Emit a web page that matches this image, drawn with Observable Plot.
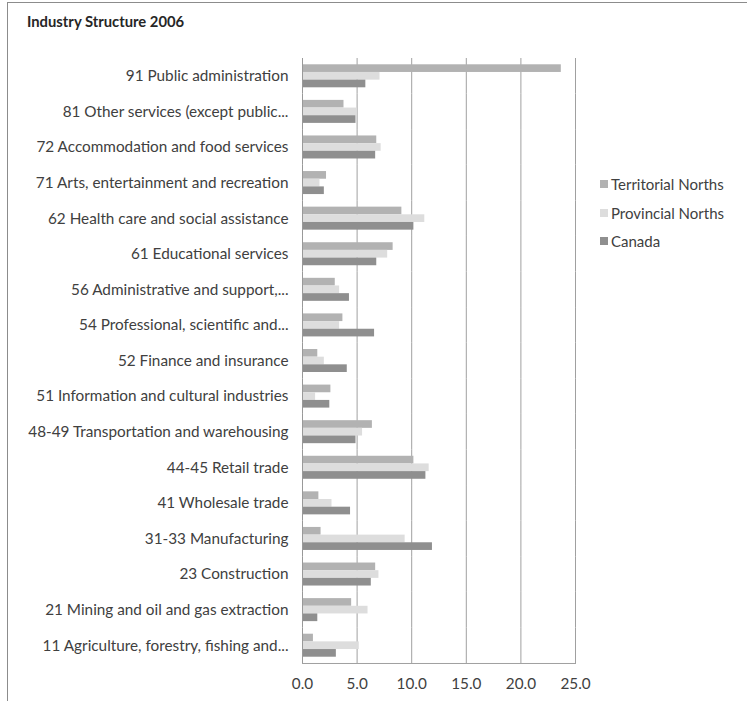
<!DOCTYPE html>
<html>
<head>
<meta charset="utf-8">
<script src="https://cdn.jsdelivr.net/npm/d3@7"></script>
<script src="https://cdn.jsdelivr.net/npm/@observablehq/plot@0.6"></script>
<style>
  body { margin: 0; background: #fff; }
  #chart { position: relative; width: 747px; height: 701px; overflow: hidden; font-family: Lato, "Open Sans", sans-serif; color: #404040; }
  #frame { position: absolute; left: 7px; top: 2px; width: 760px; height: 720px; border-left: 1px solid #8c8c8c; border-top: 1px solid #8c8c8c; }
  #title { position: absolute; left: 27px; top: 12px; font-size: 14.8px; font-weight: bold; color: #262626; }
  #legend { position: absolute; left: 600px; top: 175px; font-size: 15px; }
  .row { position: relative; height: 28.5px; line-height: 18px; padding-left: 11px; }
  .sw { position: absolute; left: 0; top: 5px; width: 8px; height: 8px; }
  #plot { position: absolute; left: 0; top: 0; }
</style>
</head>
<body>
<div id="chart">
  <div id="frame"></div>
  <div id="plot"></div>
  <div id="title">Industry Structure 2006</div>
  <div id="legend"></div>
</div>
<script>
// Industry shares of employment (%), 2006, top to bottom as drawn
const categories = [
  "91 Public administration",
  "81 Other services (except public...",
  "72 Accommodation and food services",
  "71 Arts, entertainment and recreation",
  "62 Health care and social assistance",
  "61 Educational services",
  "56 Administrative and support,...",
  "54 Professional, scientific and...",
  "52 Finance and insurance",
  "51 Information and cultural industries",
  "48-49 Transportation and warehousing",
  "44-45 Retail trade",
  "41 Wholesale trade",
  "31-33 Manufacturing",
  "23 Construction",
  "21 Mining and oil and gas extraction",
  "11 Agriculture, forestry, fishing and..."
];
const seriesNames = ["Territorial Norths", "Provincial Norths", "Canada"];
const territorial = [23.7, 3.8, 6.8, 2.2, 9.1, 8.3, 3.0, 3.7, 1.4, 2.6, 6.4, 10.2, 1.5, 1.7, 6.7, 4.5, 1.0];
const provincial  = [7.1, 5.0, 7.2, 1.6, 11.2, 7.8, 3.4, 3.4, 2.0, 1.2, 5.5, 11.6, 2.7, 9.4, 7.0, 6.0, 5.2];
const canada      = [5.8, 4.9, 6.7, 2.0, 10.2, 6.8, 4.3, 6.6, 4.1, 2.5, 4.9, 11.3, 4.4, 11.9, 6.3, 1.4, 3.1];
const xTicks = [0, 5, 10, 15, 20, 25];
const colors = ["#b2b2b2", "#dddddd", "#8f8f8f"];

const seriesValues = [territorial, provincial, canada];
const rows = categories.flatMap((c, i) =>
  seriesNames.map((s, j) => ({ industry: c, series: s, value: seriesValues[j][i] }))
);

const chart = Plot.plot({
  width: 747,
  height: 701,
  marginLeft: 302,
  marginRight: 172,
  marginTop: 58,
  marginBottom: 38,
  style: { fontFamily: "Lato, 'Open Sans', sans-serif", fontSize: "15.3px", color: "#404040", background: "transparent" },
  x: { domain: [0, 25], ticks: xTicks, tickFormat: d => d.toFixed(1), tickSize: 0, tickPadding: 15, label: null, fontSize: 15 },
  fy: { domain: categories, padding: 0, round: false, label: null, tickSize: 0, tickPadding: 14 },
  y: { domain: seriesNames, axis: null, round: false, paddingInner: 0, paddingOuter: 0.82 },
  color: { domain: seriesNames, range: colors },
  marks: [
    // gridlines repeat in every facet; facets touch, so they read as continuous
    Plot.ruleX(xTicks.slice(1), { stroke: "#a0a0a0", strokeWidth: 1 }),
    Plot.barX(rows, { fy: "industry", y: "series", x: "value", fill: "series", insetLeft: 1 }),
    // category axis line at zero
    Plot.ruleX([0], { stroke: "#999999", strokeWidth: 1 }),
    // bottom axis line, only under the last industry
    Plot.frame({ anchor: "bottom", fy: [categories[categories.length - 1]], stroke: "#a0a0a0", strokeWidth: 1 })
  ]
});
document.getElementById("plot").appendChild(chart);

// Legend, right of the plot
const legend = document.getElementById("legend");
seriesNames.forEach((s, j) => {
  const row = document.createElement("div");
  row.className = "row";
  const sw = document.createElement("span");
  sw.className = "sw";
  sw.style.background = colors[j];
  row.appendChild(sw);
  row.appendChild(document.createTextNode(s));
  legend.appendChild(row);
});
</script>
</body>
</html>
